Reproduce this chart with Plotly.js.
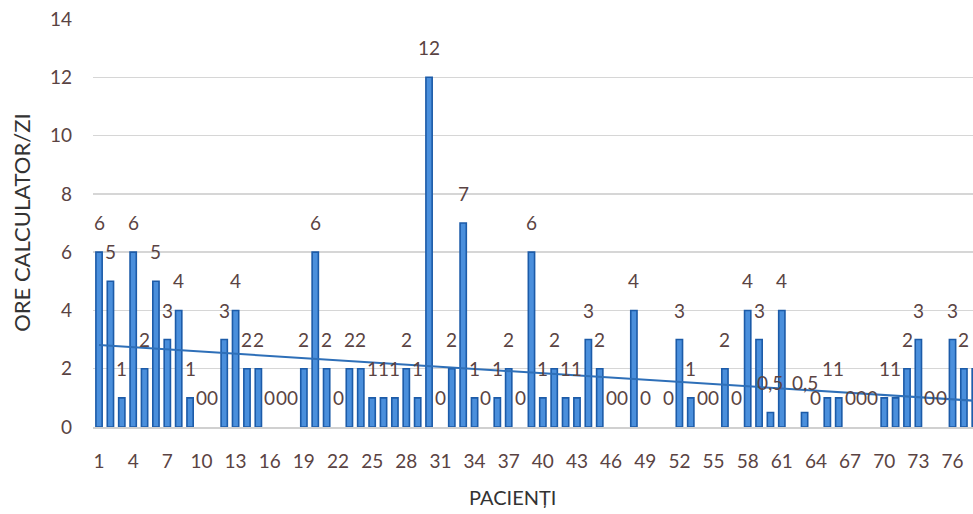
<!DOCTYPE html>
<html>
<head>
<meta charset="utf-8">
<script src="https://cdn.plot.ly/plotly-3.0.1.min.js"></script>
<style>html,body{margin:0;padding:0;background:#fff;}#chart{width:973px;height:514px;}</style>
</head>
<body>
<div id="chart"></div>
<script>
// Patients 1..78 (the chart is cropped at the right edge)
const patients = [1,2,3,4,5,6,7,8,9,10,11,12,13,14,15,16,17,18,19,20,21,22,23,24,25,26,27,28,29,30,31,32,33,34,35,36,37,38,39,40,41,42,43,44,45,46,47,48,49,50,51,52,53,54,55,56,57,58,59,60,61,62,63,64,65,66,67,68,69,70,71,72,73,74,75,76,77,78];
const hours = [6,5,1,6,2,5,3,4,1,0,0,3,4,2,2,0,0,0,2,6,2,0,2,2,1,1,1,2,1,12,0,2,7,1,0,1,2,0,6,1,2,1,1,3,2,0,0,4,0,null,0,3,1,0,0,2,0,4,3,0.5,4,null,0.5,0,1,1,0,0,0,1,1,2,3,0,0,3,2,2];
const trendX = [1, 78];
const trendY = [2.81, 0.9];
const tickVals = [1,4,7,10,13,16,19,22,25,28,31,34,37,40,43,46,49,52,55,58,61,64,67,70,73,76];
const yTicks = [0,2,4,6,8,10,12,14];

const labelColor = '#5a4343';
const fontFam = 'Lato, "Open Sans", sans-serif';

const bars = {
  type: 'bar', x: patients, y: hours,
  width: 0.55,
  marker: {
    color: '#4a8fdc',
    line: {color: '#1c5ba8', width: hours.map(v => (v ? 1.6 : 0))}
  },
  hoverinfo: 'x+y'
};
const trend = {
  type: 'scatter', mode: 'lines', x: trendX, y: trendY,
  line: {color: '#2e6fb8', width: 2}, hoverinfo: 'skip'
};

const annotations = [];
patients.forEach((p, i) => {
  const v = hours[i];
  if (v === null) return;
  annotations.push({
    x: p, y: v, xref: 'x', yref: 'y', showarrow: false,
    yanchor: 'bottom', yshift: 16,
    text: String(v).replace('.', ','),
    font: {family: fontFam, size: 19, color: labelColor}
  });
});
annotations.push({
  xref: 'paper', yref: 'paper', x: -0.082, xanchor: 'center', y: 0.5, yanchor: 'middle',
  showarrow: false, textangle: -90, text: 'ORE CALCULATOR/ZI',
  font: {family: fontFam, size: 22, color: '#333333'}
});
annotations.push({
  xref: 'paper', yref: 'paper', x: 0.477, xanchor: 'center', y: -0.172, yanchor: 'middle',
  showarrow: false, text: 'PACIENȚI',
  font: {family: fontFam, size: 20, color: '#333333'}
});

const layout = {
  width: 973, height: 514,
  margin: {l: 93, r: 0, t: 19, b: 87},
  paper_bgcolor: '#ffffff', plot_bgcolor: '#ffffff',
  showlegend: false,
  bargap: 0.45,
  xaxis: {
    range: [0.47, 77.8], tickmode: 'array', tickvals: tickVals,
    ticktext: tickVals.map(String),
    showgrid: false, zeroline: false,
    showline: true, linecolor: '#d0d0d0', linewidth: 1.5,
    ticks: '', ticklabelstandoff: 17,
    tickfont: {family: fontFam, size: 19, color: labelColor}
  },
  yaxis: {
    range: [0, 14], tickmode: 'array', tickvals: yTicks,
    showgrid: true, gridcolor: '#d6d6d6', gridwidth: 1.5,
    zeroline: false, showline: false, ticks: '',
    ticklabelstandoff: 20,
    tickfont: {family: fontFam, size: 19, color: labelColor}
  },
  annotations: annotations
};

Plotly.newPlot('chart', [bars, trend], layout, {displayModeBar: false, staticPlot: true});
</script>
</body>
</html>
